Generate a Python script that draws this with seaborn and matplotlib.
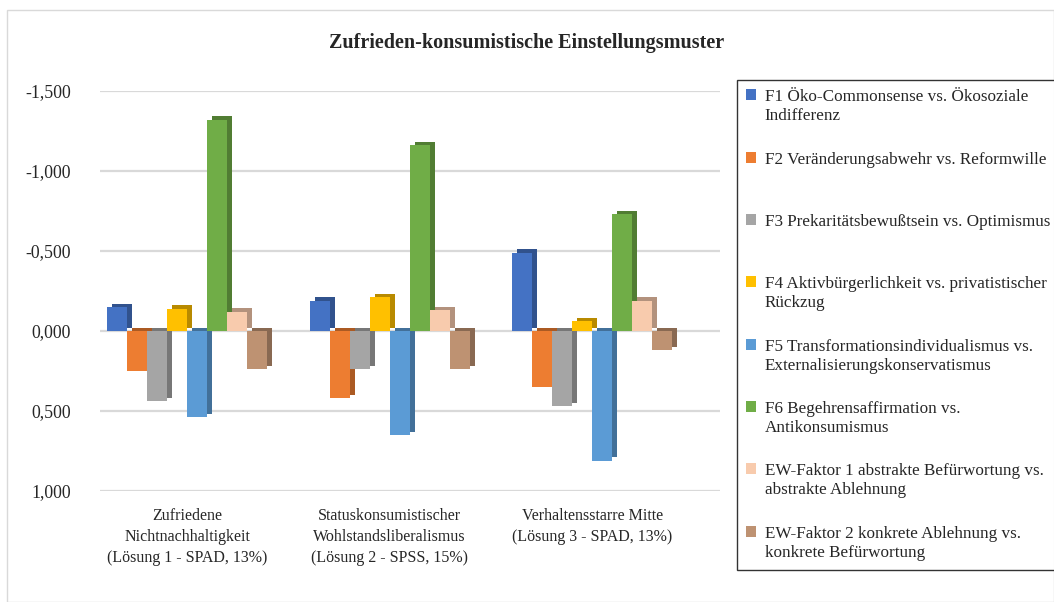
import pandas as pd
import numpy as np
import matplotlib.pyplot as plt
import matplotlib.patheffects as pe
from matplotlib.patches import Rectangle
from matplotlib.ticker import FuncFormatter, MultipleLocator
import seaborn as sns

loesungen = ['Zufriedene\nNichtnachhaltigkeit\n(Lösung 1 - SPAD, 13%)',
             'Statuskonsumistischer\nWohlstandsliberalismus\n(Lösung 2 - SPSS, 15%)',
             'Verhaltensstarre Mitte\n(Lösung 3 - SPAD, 13%)']
faktoren = ['F1 Öko-Commonsense vs. Ökosoziale\nIndifferenz',
            'F2 Veränderungsabwehr vs. Reformwille\n',
            'F3 Prekaritätsbewußtsein vs. Optimismus\n',
            'F4 Aktivbürgerlichkeit vs. privatistischer\nRückzug',
            'F5 Transformationsindividualismus vs.\nExternalisierungskonservatismus',
            'F6 Begehrensaffirmation vs.\nAntikonsumismus',
            'EW-Faktor 1 abstrakte Befürwortung vs.\nabstrakte Ablehnung',
            'EW-Faktor 2 konkrete Ablehnung vs.\nkonkrete Befürwortung']
# Werte je Faktor für Lösung 1, 2, 3
f1 = [-0.15, -0.19, -0.49]
f2 = [0.25, 0.42, 0.35]
f3 = [0.44, 0.24, 0.47]
f4 = [-0.14, -0.21, -0.06]
f5 = [0.54, 0.65, 0.81]
f6 = [-1.32, -1.16, -0.73]
ew1 = [-0.12, -0.13, -0.19]
ew2 = [0.24, 0.24, 0.12]
farben = ['#4472C4', '#ED7D31', '#A5A5A5', '#FFC000', '#5B9BD5', '#70AD47', '#F8CBAD', '#BE9272']

werte = [f1, f2, f3, f4, f5, f6, ew1, ew2]
rows = []
for fak, vals in zip(faktoren, werte):
    for l, v in zip(loesungen, vals):
        rows.append({'Lösung': l, 'Faktor': fak, 'Wert': v})
df = pd.DataFrame(rows)

sns.set_style('white')
plt.rcParams['font.family'] = ['Liberation Serif', 'DejaVu Serif']

fig = plt.figure(figsize=(10.54, 6.02), dpi=100)
ax = fig.add_axes([0.095, 0.1844, 0.588, 0.6645])
sns.barplot(data=df, x='Lösung', y='Wert', hue='Faktor', palette=farben,
            width=0.79, ax=ax, saturation=1, linewidth=0, legend=False)

shadow = [pe.SimplePatchShadow(offset=(3.5, 2.5), alpha=1, rho=0.72), pe.Normal()]
for p in ax.patches:
    p.set_path_effects(shadow)

ax.set_ylim(1.0, -1.5)
ax.set_xlim(-0.43, 2.63)
ax.yaxis.set_major_locator(MultipleLocator(0.5))
ax.yaxis.set_major_formatter(FuncFormatter(lambda v, _: f'{v:.3f}'.replace('.', ',')))
ax.grid(axis='y', color='#D9D9D9', linewidth=1.6)
ax.set_axisbelow(True)
sns.despine(ax=ax, left=True, bottom=True)
ax.tick_params(axis='y', length=0, pad=21, labelsize=12.8)
ax.set_xticks(range(len(loesungen)))
ax.set_xticklabels(loesungen, linespacing=1.45, fontsize=11.5, va='top')
ax.tick_params(axis='x', length=0, pad=12)
ax.set_xlabel('')
ax.set_ylabel('')

handles = [Rectangle((0, 0), 1, 1, facecolor=c, edgecolor='none') for c in farben]
leg = fig.legend(handles, faktoren, loc='upper left', bbox_to_anchor=(0.699, 0.867),
                 frameon=True, fancybox=False, edgecolor='black', fontsize=12.3,
                 handlelength=0.6, handleheight=0.6, handletextpad=0.5,
                 labelspacing=1.6, borderpad=0.55, borderaxespad=0)
leg.get_frame().set_linewidth(1.0)
for t in leg.get_texts():
    t.set_linespacing(1.25)
for col in leg._legend_handle_box.get_children():
    for item in col.get_children():
        item.align = 'top'

fig.suptitle('Zufrieden-konsumistische Einstellungsmuster', x=0.5, y=0.945,
             fontsize=14.5, fontweight='bold')
fig.patches.append(Rectangle((0.007, 0.0), 0.993, 0.983, transform=fig.transFigure,
                             fill=False, edgecolor='#D9D9D9', linewidth=1, zorder=-1))

plt.savefig('out.png', dpi=100)
